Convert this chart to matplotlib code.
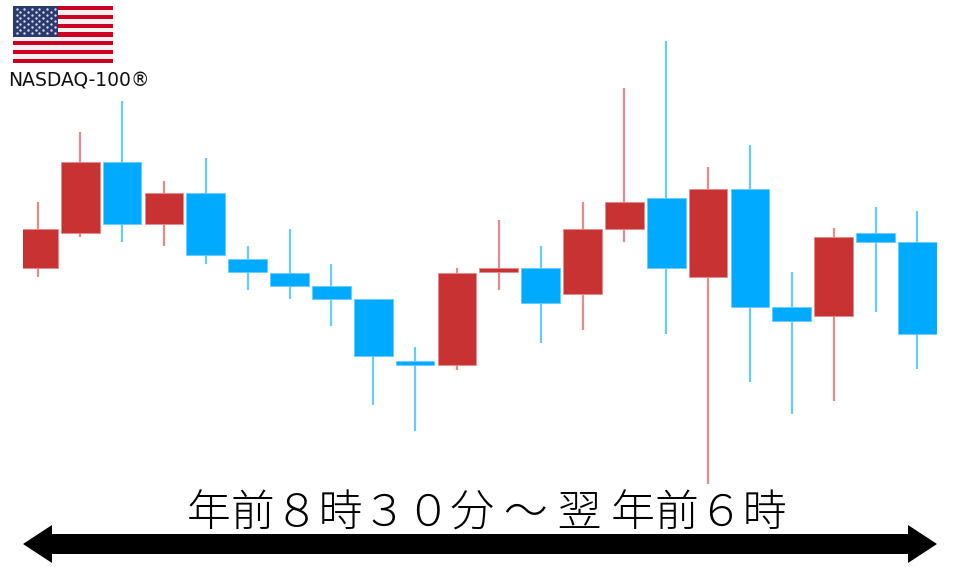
import matplotlib
matplotlib.use("Agg")
import matplotlib.pyplot as plt
from matplotlib.patches import Polygon, Rectangle

plt.rcParams['font.family'] = ['Noto Sans CJK JP', 'DejaVu Sans']

# price-like values (higher = further up)
opens  = [299, 334, 405, 343, 374, 308, 294, 281, 268, 206, 202, 295, 299, 273, 338, 369, 290, 378, 260, 251, 334, 325]
closes = [338, 405, 343, 374, 312, 295, 281, 268, 211, 202, 294, 299, 264, 338, 365, 299, 378, 260, 246, 330, 325, 233]
highs  = [365, 435, 466, 386, 409, 321, 338, 303, 268, 220, 299, 347, 321, 365, 479, 526, 400, 422, 295, 339, 360, 356]
lows   = [290, 330, 325, 321, 303, 277, 268, 241, 162, 136, 197, 277, 224, 237, 325, 233,  83, 185, 153, 166, 255, 198]

label_top = "NASDAQ-100®"
label_bottom = "年前８時３０分 ～ 翌 年前６時"

RED, RED_WICK = "#c93232", "#e68a8a"
BLUE, BLUE_WICK = "#00aaff", "#66ccff"

fig = plt.figure(figsize=(9.6, 5.67), dpi=100, facecolor="white")

# candles
ax = fig.add_axes([23 / 960, 0, 914 / 960, 1])
ax.set_xlim(-0.368, 21.468)
ax.set_ylim(0, 567)
ax.axis("off")
for i in range(len(opens)):
    up = closes[i] > opens[i]
    ax.vlines(i, lows[i], highs[i], color=RED_WICK if up else BLUE_WICK, linewidth=1.6, zorder=1)
    ax.bar(i, abs(closes[i] - opens[i]), bottom=min(opens[i], closes[i]), width=0.925,
           color=RED if up else BLUE, edgecolor=RED_WICK if up else BLUE_WICK, linewidth=0.6, zorder=2)

# overlay in pixel coordinates for flag, labels and the arrow
over = fig.add_axes([0, 0, 1, 1])
over.set_xlim(0, 960)
over.set_ylim(567, 0)
over.axis("off")
over.patch.set_alpha(0)

# flag
for s in range(13):
    h = 57 / 13
    over.add_patch(Rectangle((13, 6 + s * h), 100, h, color="#cc0022" if s % 2 == 0 else "#f6f0f0", lw=0))
over.add_patch(Rectangle((13, 6), 45, 7 * 57 / 13, color="#2b3a6e", lw=0))
star_x, star_y = [], []
for r in range(9):
    n = 6 if r % 2 == 0 else 5
    for c in range(n):
        star_x.append(16.5 + c * 7.6 + (0 if r % 2 == 0 else 3.8))
        star_y.append(9 + r * 3.0)
over.scatter(star_x, star_y, s=3, c="#d8dcec", linewidths=0, zorder=3)

over.text(8, 81, label_top, fontsize=13.5, color="#111111", ha="left", va="center", family=['DejaVu Sans'])
over.text(486.5, 514, label_bottom, fontsize=31.6, color="black", ha="center", va="center", fontweight="light")

# double arrow
over.add_patch(Polygon([(23, 544), (52, 525), (52, 534), (908, 534), (908, 525),
                        (937, 544), (908, 563), (908, 554), (52, 554), (52, 563)],
                       closed=True, color="black", lw=0))

fig.savefig("out.png", dpi=100)
